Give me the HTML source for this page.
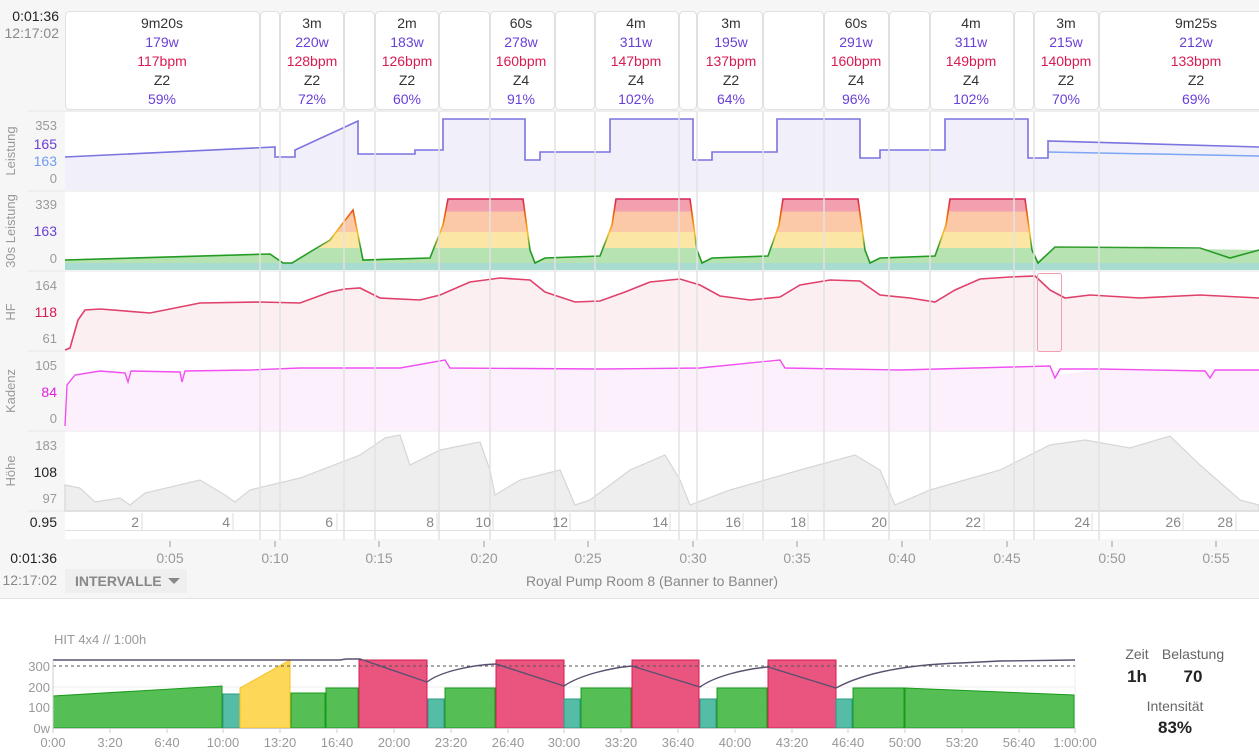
<!DOCTYPE html>
<html><head><meta charset="utf-8"><style>
body{margin:0;width:1259px;height:748px;overflow:hidden;background:#fff;font-family:"Liberation Sans",sans-serif}
text{font-family:"Liberation Sans",sans-serif}
</style></head><body>
<svg width="1259" height="748" viewBox="0 0 1259 748" xmlns="http://www.w3.org/2000/svg">
<defs>
<linearGradient id="z" x1="0" y1="0" x2="0" y2="1" gradientUnits="userSpaceOnUse" x1a="0">
</linearGradient>
<linearGradient id="zg" gradientUnits="userSpaceOnUse" x1="0" y1="197" x2="0" y2="264">
<stop offset="0" stop-color="#f2a0b0"/><stop offset="0.22" stop-color="#f2a0b0"/>
<stop offset="0.22" stop-color="#fbc9a8"/><stop offset="0.52" stop-color="#fbc9a8"/>
<stop offset="0.52" stop-color="#fbe6a6"/><stop offset="0.76" stop-color="#fbe6a6"/>
<stop offset="0.76" stop-color="#b7e2b2"/><stop offset="1" stop-color="#b7e2b2"/>
</linearGradient>
<linearGradient id="zl" gradientUnits="userSpaceOnUse" x1="0" y1="197" x2="0" y2="264">
<stop offset="0" stop-color="#d81b60"/><stop offset="0.3" stop-color="#ef6c00"/>
<stop offset="0.55" stop-color="#fbc02d"/><stop offset="0.75" stop-color="#2e9d2e"/><stop offset="1" stop-color="#1a9a1a"/>
</linearGradient>
</defs>
<rect x="0" y="0" width="1259" height="598" fill="#f6f6f6"/>
<line x1="0" y1="598.5" x2="1259" y2="598.5" stroke="#e2e2e2"/>
<!-- panels backgrounds -->
<rect x="65" y="112" width="1194" height="398" fill="#fff"/>
<rect x="65" y="512" width="1194" height="27" fill="#fff"/>
<g stroke="#e6e6e6"><line x1="28" y1="111" x2="1259" y2="111"/><line x1="28" y1="191" x2="1259" y2="191"/><line x1="28" y1="271" x2="1259" y2="271"/><line x1="28" y1="351" x2="1259" y2="351"/><line x1="28" y1="431" x2="1259" y2="431"/><line x1="28" y1="511" x2="1259" y2="511"/></g>
<!-- header cards -->
<g fill="#fff" stroke="#e0e0e0">
<rect x="65.5" y="11.5" width="194" height="98" rx="4"/><rect x="260.5" y="11.5" width="19" height="98" rx="4"/>
<rect x="280.5" y="11.5" width="63" height="98" rx="4"/><rect x="344.5" y="11.5" width="30" height="98" rx="4"/>
<rect x="375.5" y="11.5" width="63" height="98" rx="4"/><rect x="439.5" y="11.5" width="50" height="98" rx="4"/>
<rect x="490.5" y="11.5" width="64" height="98" rx="4"/><rect x="555.5" y="11.5" width="39" height="98" rx="4"/>
<rect x="595.5" y="11.5" width="83" height="98" rx="4"/><rect x="679.5" y="11.5" width="17" height="98" rx="4"/>
<rect x="697.5" y="11.5" width="65" height="98" rx="4"/><rect x="763.5" y="11.5" width="60" height="98" rx="4"/>
<rect x="824.5" y="11.5" width="64" height="98" rx="4"/><rect x="889.5" y="11.5" width="40" height="98" rx="4"/>
<rect x="930.5" y="11.5" width="83" height="98" rx="4"/><rect x="1014.5" y="11.5" width="19" height="98" rx="4"/>
<rect x="1034.5" y="11.5" width="64" height="98" rx="4"/><rect x="1099.5" y="11.5" width="170" height="98" rx="4"/>
</g>
<g font-size="14" text-anchor="middle">
<g fill="#333"><text x="162" y="28">9m20s</text><text x="312" y="28">3m</text><text x="407" y="28">2m</text><text x="521" y="28">60s</text><text x="636" y="28">4m</text><text x="731" y="28">3m</text><text x="856" y="28">60s</text><text x="971" y="28">4m</text><text x="1066" y="28">3m</text><text x="1196" y="28">9m25s</text>
<text x="162" y="85">Z2</text><text x="312" y="85">Z2</text><text x="407" y="85">Z2</text><text x="521" y="85">Z4</text><text x="636" y="85">Z4</text><text x="731" y="85">Z2</text><text x="856" y="85">Z4</text><text x="971" y="85">Z4</text><text x="1066" y="85">Z2</text><text x="1196" y="85">Z2</text></g>
<g fill="#6a3fd8"><text x="162" y="47">179w</text><text x="312" y="47">220w</text><text x="407" y="47">183w</text><text x="521" y="47">278w</text><text x="636" y="47">311w</text><text x="731" y="47">195w</text><text x="856" y="47">291w</text><text x="971" y="47">311w</text><text x="1066" y="47">215w</text><text x="1196" y="47">212w</text>
<text x="162" y="104">59%</text><text x="312" y="104">72%</text><text x="407" y="104">60%</text><text x="521" y="104">91%</text><text x="636" y="104">102%</text><text x="731" y="104">64%</text><text x="856" y="104">96%</text><text x="971" y="104">102%</text><text x="1066" y="104">70%</text><text x="1196" y="104">69%</text></g>
<g fill="#d81b50"><text x="162" y="66">117bpm</text><text x="312" y="66">128bpm</text><text x="407" y="66">126bpm</text><text x="521" y="66">160bpm</text><text x="636" y="66">147bpm</text><text x="731" y="66">137bpm</text><text x="856" y="66">160bpm</text><text x="971" y="66">149bpm</text><text x="1066" y="66">140bpm</text><text x="1196" y="66">133bpm</text></g>
</g>
<text x="59" y="21" font-size="14" fill="#222" text-anchor="end">0:01:36</text>
<text x="59" y="38" font-size="14" fill="#888" text-anchor="end">12:17:02</text>
<!-- Leistung -->
<path d="M65,157 L275,147 L275,157 L295,157 L295,150 L358,121 L358,154 L415,154 L415,150 L443,150 L443,119 L525,119 L525,160 L540,160 L540,152 L610,152 L610,119 L693,119 L693,160 L712,160 L712,152 L777,152 L777,119 L860,119 L860,158 L880,158 L880,150 L945,150 L945,119 L1028,119 L1028,158 L1048,158 L1048,141 L1259,147 L1259,190 L65,190Z" fill="#f1f0fa"/>
<path d="M1048,152 L1259,156" stroke="#7da6f5" stroke-width="1.5" fill="none"/>
<path d="M65,157 L275,147 L275,157 L295,157 L295,150 L358,121 L358,154 L415,154 L415,150 L443,150 L443,119 L525,119 L525,160 L540,160 L540,152 L610,152 L610,119 L693,119 L693,160 L712,160 L712,152 L777,152 L777,119 L860,119 L860,158 L880,158 L880,150 L945,150 L945,119 L1028,119 L1028,158 L1048,158 L1048,141 L1259,147" stroke="#7b73e0" stroke-width="1.6" fill="none"/>
<!-- 30s -->
<rect x="65" y="263" width="1194" height="7" fill="#a9dcd0"/>
<path d="M65,263 L65,260 L270,254 L283,263 L292,263 L310,252 L330,240 L353,210 L363,260 L430,258 L443,225 L448,199 L523,199 L530,250 L535,263 L545,258 L600,256 L612,225 L616,199 L690,199 L697,250 L702,263 L712,258 L768,256 L779,225 L783,199 L858,199 L865,250 L870,263 L880,258 L935,256 L946,225 L950,199 L1025,199 L1032,250 L1038,263 L1055,247 L1259,250 L1259,263Z" fill="url(#zg)"/>
<path d="M65,260 L270,254 L283,263 L292,263 L310,252 L330,240 L353,210 L363,260 L430,258 L443,225 L448,199 L523,199 L530,250 L535,263 L545,258 L600,256 L612,225 L616,199 L690,199 L697,250 L702,263 L712,258 L768,256 L779,225 L783,199 L858,199 L865,250 L870,263 L880,258 L935,256 L946,225 L950,199 L1025,199 L1032,250 L1038,263 L1055,247 L1200,248 L1230,258 L1259,250" stroke="url(#zl)" stroke-width="1.6" fill="none"/>
<!-- HF -->
<path d="M65,350 L70,348 L78,320 L85,310 L100,309 L150,313 L200,303 L260,302 L300,303 L330,292 L345,289 L360,288 L380,298 L420,300 L440,295 L470,282 L500,278 L530,280 L545,292 L575,302 L600,301 L625,292 L650,282 L680,279 L700,285 L720,296 L750,300 L780,297 L800,285 L830,280 L860,281 L880,295 L910,298 L935,302 L955,290 L980,279 L1010,277 L1035,276 L1050,290 L1065,298 L1090,295 L1140,298 L1200,295 L1259,298 L1259,351 L65,351Z" fill="#fbeff2"/>
<path d="M65,350 L70,348 L78,320 L85,310 L100,309 L150,313 L200,303 L260,302 L300,303 L330,292 L345,289 L360,288 L380,298 L420,300 L440,295 L470,282 L500,278 L530,280 L545,292 L575,302 L600,301 L625,292 L650,282 L680,279 L700,285 L720,296 L750,300 L780,297 L800,285 L830,280 L860,281 L880,295 L910,298 L935,302 L955,290 L980,279 L1010,277 L1035,276 L1050,290 L1065,298 L1090,295 L1140,298 L1200,295 L1259,298" stroke="#e0406a" stroke-width="1.6" fill="none"/>
<rect x="1037.5" y="273.5" width="24" height="78" rx="2" fill="none" stroke="#f0a0b0"/>
<!-- Kadenz -->
<path d="M65,426 L67,385 L75,375 L100,371 L200,371 L250,370 L300,368 L400,368 L445,362 L450,368 L600,369 L700,368 L780,362 L785,368 L900,370 L1050,367 L1060,375 L1100,369 L1259,370 L1259,431 L65,431Z" fill="#fdf0fd"/>
<path d="M65,426 L67,385 L75,375 L100,371 L125,373 L128,382 L131,371 L180,372 L182,382 L185,371 L250,370 L300,368 L400,368 L445,360 L450,368 L600,369 L700,368 L780,360 L785,368 L900,370 L1050,366 L1055,378 L1060,369 L1100,369 L1205,371 L1210,378 L1215,370 L1259,370" stroke="#f050f0" stroke-width="1.4" fill="none"/>
<!-- Höhe -->
<path d="M65,485 L80,488 L95,502 L120,498 L130,505 L145,493 L200,480 L225,495 L235,502 L250,490 L300,478 L360,455 L385,438 L400,435 L410,465 L440,450 L480,442 L490,470 L495,495 L520,480 L560,470 L575,505 L590,500 L630,470 L665,455 L680,480 L690,505 L730,490 L800,470 L855,455 L880,470 L895,505 L930,490 L1000,470 L1050,445 L1085,440 L1130,448 L1170,436 L1200,465 L1240,500 L1259,505 L1259,511 L65,511Z" fill="#eeeeee" stroke="#d6d6d6" stroke-width="1.2"/>
<!-- interval vertical lines -->
<g stroke="#e2e2e2" stroke-width="1.5">
<line x1="260" y1="112" x2="260" y2="540"/><line x1="280" y1="112" x2="280" y2="540"/><line x1="344" y1="112" x2="344" y2="540"/><line x1="375" y1="112" x2="375" y2="540"/><line x1="439" y1="112" x2="439" y2="540"/><line x1="490" y1="112" x2="490" y2="540"/><line x1="555" y1="112" x2="555" y2="540"/><line x1="595" y1="112" x2="595" y2="540"/><line x1="679" y1="112" x2="679" y2="540"/><line x1="697" y1="112" x2="697" y2="540"/><line x1="763" y1="112" x2="763" y2="540"/><line x1="824" y1="112" x2="824" y2="540"/><line x1="889" y1="112" x2="889" y2="540"/><line x1="930" y1="112" x2="930" y2="540"/><line x1="1014" y1="112" x2="1014" y2="540"/><line x1="1034" y1="112" x2="1034" y2="540"/><line x1="1099" y1="112" x2="1099" y2="540"/>
</g>
<!-- laps row -->
<g stroke="#e0e0e0"><line x1="65" y1="530.5" x2="1259" y2="530.5"/></g>
<g stroke="#ddd"><line x1="142" y1="513" x2="142" y2="530"/><line x1="233" y1="513" x2="233" y2="530"/><line x1="337" y1="513" x2="337" y2="530"/><line x1="437" y1="513" x2="437" y2="530"/><line x1="493" y1="513" x2="493" y2="530"/><line x1="570" y1="513" x2="570" y2="530"/><line x1="670" y1="513" x2="670" y2="530"/><line x1="743" y1="513" x2="743" y2="530"/><line x1="808" y1="513" x2="808" y2="530"/><line x1="889" y1="513" x2="889" y2="530"/><line x1="984" y1="513" x2="984" y2="530"/><line x1="1092" y1="513" x2="1092" y2="530"/><line x1="1183" y1="513" x2="1183" y2="530"/><line x1="1236" y1="513" x2="1236" y2="530"/></g>
<g font-size="14" fill="#888" text-anchor="end"><text x="139" y="527">2</text><text x="230" y="527">4</text><text x="333" y="527">6</text><text x="434" y="527">8</text><text x="491" y="527">10</text><text x="568" y="527">12</text><text x="668" y="527">14</text><text x="741" y="527">16</text><text x="806" y="527">18</text><text x="887" y="527">20</text><text x="981" y="527">22</text><text x="1090" y="527">24</text><text x="1181" y="527">26</text><text x="1233" y="527">28</text></g>
<text x="57" y="527" font-size="14" fill="#222" text-anchor="end">0.95</text>
<!-- y labels -->
<g font-size="13" text-anchor="end" fill="#999">
<text x="57" y="130">353</text><text x="57" y="183">0</text>
<text x="57" y="209">339</text><text x="57" y="263">0</text>
<text x="57" y="290">164</text><text x="57" y="343">61</text>
<text x="57" y="370">105</text><text x="57" y="423">0</text>
<text x="57" y="450">183</text><text x="57" y="503">97</text>
</g>
<g font-size="14" text-anchor="end">
<text x="57" y="149" fill="#6a3fd8">165</text><text x="57" y="166" fill="#6f9cf5">163</text>
<text x="57" y="236" fill="#6a3fd8">163</text>
<text x="57" y="317" fill="#d81b50">118</text>
<text x="57" y="397" fill="#e020e0">84</text>
<text x="57" y="477" fill="#222">108</text>
</g>
<g font-size="13" fill="#999" text-anchor="middle">
<text transform="translate(15,151) rotate(-90)">Leistung</text>
<text transform="translate(15,231) rotate(-90)">30s Leistung</text>
<text transform="translate(15,312) rotate(-90)">HF</text>
<text transform="translate(15,391) rotate(-90)">Kadenz</text>
<text transform="translate(15,471) rotate(-90)">Höhe</text>
</g>
<!-- time axis -->
<g stroke="#999"><line x1="170" y1="541" x2="170" y2="547"/><line x1="275" y1="541" x2="275" y2="547"/><line x1="379" y1="541" x2="379" y2="547"/><line x1="484" y1="541" x2="484" y2="547"/><line x1="588" y1="541" x2="588" y2="547"/><line x1="693" y1="541" x2="693" y2="547"/><line x1="797" y1="541" x2="797" y2="547"/><line x1="902" y1="541" x2="902" y2="547"/><line x1="1007" y1="541" x2="1007" y2="547"/><line x1="1112" y1="541" x2="1112" y2="547"/><line x1="1216" y1="541" x2="1216" y2="547"/></g>
<g font-size="14" fill="#999" text-anchor="middle"><text x="170" y="563">0:05</text><text x="275" y="563">0:10</text><text x="379" y="563">0:15</text><text x="484" y="563">0:20</text><text x="588" y="563">0:25</text><text x="693" y="563">0:30</text><text x="797" y="563">0:35</text><text x="902" y="563">0:40</text><text x="1007" y="563">0:45</text><text x="1112" y="563">0:50</text><text x="1216" y="563">0:55</text></g>
<text x="57" y="563" font-size="14" fill="#222" text-anchor="end">0:01:36</text>
<text x="57" y="585" font-size="14" fill="#888" text-anchor="end">12:17:02</text>
<rect x="65" y="569" width="122" height="24" fill="#efefef"/>
<text x="75" y="586" font-size="14" font-weight="bold" fill="#888">INTERVALLE</text>
<path d="M168,578 L180,578 L174,584Z" fill="#888"/>
<text x="652" y="586" font-size="14" fill="#888" text-anchor="middle">Royal Pump Room 8 (Banner to Banner)</text>
<!-- bottom chart -->
<text x="54" y="644" font-size="13" fill="#999">HIT 4x4 // 1:00h</text>
<g stroke="#ececec"><line x1="53" y1="687" x2="1075" y2="687"/><line x1="53" y1="707" x2="1075" y2="707"/><line x1="1075" y1="660" x2="1075" y2="728"/></g>
<g stroke-width="1" fill-opacity="0.95">
<path d="M53,728 L53,696 L222,686 L222,728Z" fill="#4cbb4c" stroke="#1a9a1a"/>
<rect x="223" y="694" width="17" height="34" fill="#4cb8a0" stroke="#2a9a88"/>
<path d="M240,728 L240,688 L290,660 L290,728Z" fill="#fdd54e" stroke="#f5c020"/>
<rect x="291" y="693" width="34" height="35" fill="#4cbb4c" stroke="#1a9a1a"/>
<rect x="326" y="688" width="32" height="40" fill="#4cbb4c" stroke="#1a9a1a"/>
<rect x="359" y="660" width="68" height="68" fill="#e84c78" stroke="#d81b50"/>
<rect x="428" y="699" width="16" height="29" fill="#4cb8a0" stroke="#2a9a88"/>
<rect x="445" y="688" width="50" height="40" fill="#4cbb4c" stroke="#1a9a1a"/>
<rect x="496" y="660" width="68" height="68" fill="#e84c78" stroke="#d81b50"/>
<rect x="564" y="699" width="16" height="29" fill="#4cb8a0" stroke="#2a9a88"/>
<rect x="581" y="688" width="50" height="40" fill="#4cbb4c" stroke="#1a9a1a"/>
<rect x="632" y="660" width="67" height="68" fill="#e84c78" stroke="#d81b50"/>
<rect x="700" y="699" width="16" height="29" fill="#4cb8a0" stroke="#2a9a88"/>
<rect x="717" y="688" width="50" height="40" fill="#4cbb4c" stroke="#1a9a1a"/>
<rect x="768" y="660" width="68" height="68" fill="#e84c78" stroke="#d81b50"/>
<rect x="836" y="699" width="16" height="29" fill="#4cb8a0" stroke="#2a9a88"/>
<rect x="853" y="688" width="51" height="40" fill="#4cbb4c" stroke="#1a9a1a"/>
<path d="M905,728 L905,688 L1074,695 L1074,728Z" fill="#4cbb4c" stroke="#1a9a1a"/>
</g>
<line x1="53" y1="666" x2="1075" y2="666" stroke="#555" stroke-dasharray="3,3"/>
<path d="M53,660 L340,660 L346,659 L360,659 L427,682 C440,672 470,665 496,664 L564,686 C580,675 610,668 632,666 L700,687 C715,676 745,669 768,667 L836,688 C860,675 900,665 960,663 L1000,661 L1075,660" stroke="#5a5070" stroke-width="1.4" fill="none"/>
<line x1="53" y1="660" x2="53" y2="728" stroke="#ccc"/>
<g font-size="13" fill="#999" text-anchor="end"><text x="50" y="671">300</text><text x="50" y="692">200</text><text x="50" y="712">100</text><text x="50" y="733">0w</text></g>
<line x1="53" y1="728.5" x2="1075" y2="728.5" stroke="#ccc"/>
<g stroke="#ccc"><line x1="53" y1="728" x2="53" y2="733"/><line x1="110" y1="728" x2="110" y2="733"/><line x1="167" y1="728" x2="167" y2="733"/><line x1="223" y1="728" x2="223" y2="733"/><line x1="280" y1="728" x2="280" y2="733"/><line x1="337" y1="728" x2="337" y2="733"/><line x1="394" y1="728" x2="394" y2="733"/><line x1="451" y1="728" x2="451" y2="733"/><line x1="508" y1="728" x2="508" y2="733"/><line x1="564" y1="728" x2="564" y2="733"/><line x1="621" y1="728" x2="621" y2="733"/><line x1="678" y1="728" x2="678" y2="733"/><line x1="735" y1="728" x2="735" y2="733"/><line x1="792" y1="728" x2="792" y2="733"/><line x1="848" y1="728" x2="848" y2="733"/><line x1="905" y1="728" x2="905" y2="733"/><line x1="962" y1="728" x2="962" y2="733"/><line x1="1019" y1="728" x2="1019" y2="733"/><line x1="1075" y1="728" x2="1075" y2="733"/></g>
<g font-size="13" fill="#999" text-anchor="middle"><text x="53" y="747">0:00</text><text x="110" y="747">3:20</text><text x="167" y="747">6:40</text><text x="223" y="747">10:00</text><text x="280" y="747">13:20</text><text x="337" y="747">16:40</text><text x="394" y="747">20:00</text><text x="451" y="747">23:20</text><text x="508" y="747">26:40</text><text x="564" y="747">30:00</text><text x="621" y="747">33:20</text><text x="678" y="747">36:40</text><text x="735" y="747">40:00</text><text x="792" y="747">43:20</text><text x="848" y="747">46:40</text><text x="905" y="747">50:00</text><text x="962" y="747">53:20</text><text x="1019" y="747">56:40</text><text x="1075" y="747">1:00:00</text></g>
<g text-anchor="middle"><text x="1137" y="659" font-size="14" fill="#666">Zeit</text><text x="1193" y="659" font-size="14" fill="#666">Belastung</text>
<text x="1137" y="682" font-size="17" font-weight="bold" fill="#222">1h</text><text x="1193" y="682" font-size="17" font-weight="bold" fill="#222">70</text>
<text x="1175" y="711" font-size="14" fill="#666">Intensität</text><text x="1175" y="733" font-size="17" font-weight="bold" fill="#222">83%</text></g>
</svg>
</body></html>
